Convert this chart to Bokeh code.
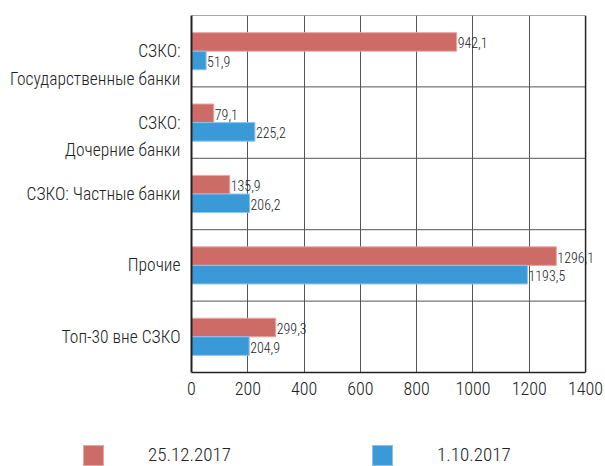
from bokeh.plotting import figure
from bokeh.layouts import column
from bokeh.models import ColumnDataSource, Range1d, FixedTicker, Span, Div
from bokeh.transform import dodge
from bokeh.core.properties import value
from bokeh.embed import file_html
from bokeh.resources import INLINE

# ---- data (top to bottom as shown) ----
categories = ["СЗКО: Государственные банки", "СЗКО: Дочерние банки",
              "СЗКО: Частные банки", "Прочие", "Топ-30 вне СЗКО"]
label_line1 = ["СЗКО:", "СЗКО:", "СЗКО: Частные банки", "Прочие", "Топ-30 вне СЗКО"]
label_line2 = ["Государственные банки", "Дочерние банки", "", "", ""]
values_2512 = [942.1, 79.1, 135.9, 1296.1, 299.3]
values_0110 = [51.9, 225.2, 206.2, 1193.5, 204.9]
series_names = ["25.12.2017", "1.10.2017"]
x_ticks = [0, 200, 400, 600, 800, 1000, 1200, 1400]

FONT = "Roboto Condensed Light"
RED = "#CD6B66"
BLUE = "#3A9AD7"
RED_EDGE = "#E6A7A3"
BLUE_EDGE = "#8DC3EA"
INK = "#222222"
GRID = "#555555"

def fmt(v):
    return f"{v:.1f}".replace(".", ",")

n = len(categories)
# category slot centres: first category at the top
slot = [n - i - 0.5 for i in range(n)]
src = ColumnDataSource(dict(
    cat=categories,
    y=slot,
    a=values_2512,
    b=values_0110,
    a_lbl=[fmt(v) for v in values_2512],
    b_lbl=[fmt(v) for v in values_0110],
))

p = figure(width=605, height=408, y_range=Range1d(0, n), x_range=Range1d(0, 1453),
           output_backend="svg", toolbar_location=None,
           min_border_left=191, min_border_right=5, min_border_top=15,
           min_border_bottom=36)
p.background_fill_color = "white"
p.border_fill_color = "white"
p.outline_line_color = None

# category separators and top border (within the 0..last tick span)
sep = list(range(1, n + 1))
p.segment(x0=[x_ticks[0]] * len(sep), x1=[x_ticks[-1]] * len(sep), y0=sep, y1=sep,
          line_color=GRID, line_width=1)
p.add_layout(Span(location=x_ticks[-1], dimension="height", line_color=INK, line_width=1.5))

bar_h = 0.26
r1 = p.hbar(y=dodge("y", bar_h / 2), right="a", left=0, height=bar_h,
            source=src, fill_color=RED, line_color=RED_EDGE, line_width=1)
r2 = p.hbar(y=dodge("y", -bar_h / 2), right="b", left=0, height=bar_h,
            source=src, fill_color=BLUE, line_color=BLUE_EDGE, line_width=1)

p.text(x="a", y=dodge("y", bar_h / 2), text="a_lbl", source=src,
       x_offset=1, y_offset=1, text_baseline="middle", text_align="left",
       text_font=value(FONT), text_font_size="14px", text_color=INK)
p.text(x="b", y=dodge("y", -bar_h / 2), text="b_lbl", source=src,
       x_offset=1, y_offset=1, text_baseline="middle", text_align="left",
       text_font=value(FONT), text_font_size="14px", text_color=INK)

# x axis
p.xaxis.ticker = FixedTicker(ticks=x_ticks)
p.xaxis.bounds = (x_ticks[0], x_ticks[-1])
p.xaxis.major_tick_out = 0
p.xaxis.major_tick_in = 0
p.xaxis.minor_tick_line_color = None
p.xaxis.axis_line_color = INK
p.xaxis.axis_line_width = 1.5
p.xaxis.major_label_standoff = 9
p.xaxis.major_label_text_font = FONT
p.xaxis.major_label_text_font_size = "18px"
p.xaxis.major_label_text_color = INK

# y axis: category labels, one tick per text line
tick_pos = []
overrides = {}
for c0, l1, l2 in zip(slot, label_line1, label_line2):
    c = round(c0, 3)
    tick_pos.append(c)
    overrides[c] = l1
    if l2:
        c2 = round(c0 - 0.39, 3)
        tick_pos.append(c2)
        overrides[c2] = l2
yax = p.yaxis[0]
yax.ticker = FixedTicker(ticks=tick_pos)
yax.major_label_overrides = overrides
yax.major_tick_out = 0
yax.major_tick_in = 0
yax.minor_tick_line_color = None
yax.axis_line_color = INK
yax.axis_line_width = 2
yax.major_label_standoff = 11
yax.major_label_text_font = FONT
yax.major_label_text_font_size = "17.5px"
yax.major_label_text_color = INK

# grids
p.xgrid.ticker = FixedTicker(ticks=x_ticks[1:-1])
p.xgrid.grid_line_color = GRID
p.xgrid.grid_line_width = 1
p.ygrid.grid_line_color = None

# legend strip below, as HTML (key boxes + series names)
LEG_W, LEG_H = 605, 58
leg_key_left = [83, 372]     # layout positions of the legend keys (px)
KEY = 21
TEXT_GAP = 44
parts = []
for left, name, fill, edge in zip(leg_key_left, series_names, [RED, BLUE], [RED_EDGE, BLUE_EDGE]):
    parts.append(
        f'<div style="position:absolute;left:{left}px;top:{LEG_H - KEY}px;width:{KEY}px;'
        f'height:{KEY}px;background:{fill};box-shadow:inset 0 0 0 1px {edge};"></div>'
        f'<div style="position:absolute;left:{left + KEY + TEXT_GAP}px;top:{LEG_H - KEY - 1}px;'
        f'height:{KEY}px;line-height:{KEY}px;white-space:nowrap;">{name}</div>'
    )
html = (f'<div style="position:relative;width:{LEG_W}px;height:{LEG_H}px;margin:0;padding:0;'
        f"font-family:'{FONT}';font-size:19px;color:{INK};\">" + "".join(parts) + "</div>")
leg = Div(text=html, width=LEG_W, height=LEG_H, margin=0)

layout = column(p, leg, spacing=0)
open("out.html", "w").write(file_html(layout, INLINE))
